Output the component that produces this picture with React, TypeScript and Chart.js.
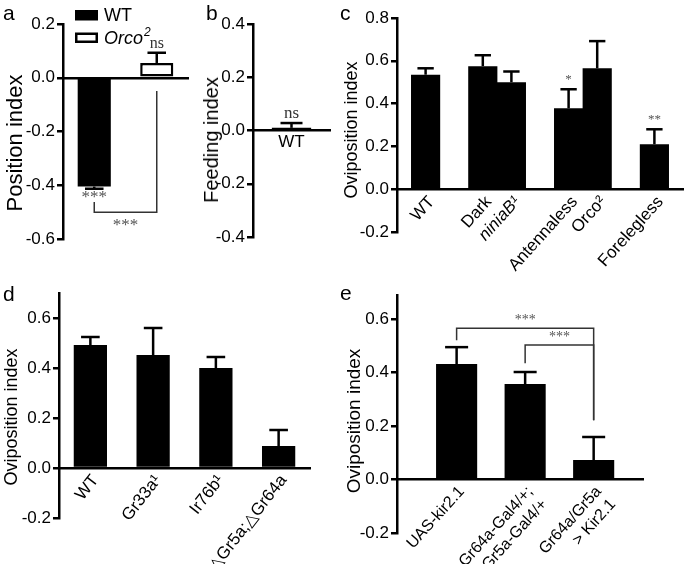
import React, { useEffect, useRef } from 'react';
import { Chart, registerables } from 'chart.js';

Chart.register(...registerables);

const SANS = '"Liberation Sans", "DejaVu Sans", Arial, sans-serif';
const SERIF = '"Liberation Serif", "DejaVu Serif", "Times New Roman", serif';

// ---- Panel a: position index ----
const categoriesA = ['WT', 'Orco2'];
const wtValuesA = [-0.405, null];
const orcoValuesA = [null, 0.055];
const errorsA = [0.008, 0.038];
const marksA = ['***', 'ns'];
const bracketsA = [{ from: 0, to: 1, legFrom: -0.462, level: -0.5, legTo: -0.049, text: '***' }];
const yTicksA = [-0.6, -0.4, -0.2, 0, 0.2];

// ---- Panel b: feeding index ----
const categoriesB = ['WT'];
const valuesB = [0.01];
const errorsB = [0.018];
const marksB = ['ns'];
const yTicksB = [-0.4, -0.2, 0, 0.2, 0.4];

// ---- Panel c: oviposition index ----
const categoriesC = ['', 'WT', '', 'Dark', 'niniaB¹', '', 'Antennaless', 'Orco²', '', 'Forelegless', ''];
const valuesC = [null, 0.535, null, 0.575, 0.5, null, 0.378, 0.565, null, 0.21, null];
const errorsC = [null, 0.03, null, 0.051, 0.05, null, 0.089, 0.127, null, 0.07, null];
const marksC = ['', '', '', '', '', '', '*', '', '', '**', ''];
const italicLabelsC = ['niniaB¹'];
const yTicksC = [-0.2, 0, 0.2, 0.4, 0.6, 0.8];

// ---- Panel d ----
const categoriesD = ['WT', 'Gr33a¹', 'Ir76b¹', '△Gr5a;△Gr64a'];
const valuesD = [0.492, 0.452, 0.4, 0.088];
const errorsD = [0.032, 0.108, 0.044, 0.064];
const yTicksD = [-0.2, 0, 0.2, 0.4, 0.6];

// ---- Panel e ----
const categoriesE = [['UAS-kir2.1'], ['Gr64a-Gal4/+;', 'Gr5a-Gal4/+'], ['Gr64a/Gr5a', '> Kir2.1']];
const valuesE = [0.432, 0.357, 0.073];
const errorsE = [0.063, 0.045, 0.086];
const bracketsE = [
  { from: 0, to: 2, legFrom: 0.521, level: 0.566, legTo: 0.222, text: '***' },
  { from: 1, to: 2, legFrom: 0.435, level: 0.503, legTo: 0.222, text: '***' },
];
const yTicksE = [-0.2, 0, 0.2, 0.4, 0.6];

type Rect = { x: number; y: number; w: number; h: number };
type Area = { l: number; t: number; r: number; b: number };

const RECT_A: Rect = { x: 0, y: 0, w: 205, h: 282 };
const AREA_A: Area = { l: 63, t: 24, r: 188, b: 239 };
const RECT_B: Rect = { x: 205, y: 0, w: 135, h: 282 };
const AREA_B: Area = { l: 253, t: 24, r: 330, b: 237 };
const RECT_C: Rect = { x: 340, y: 0, w: 345, h: 290 };
const AREA_C: Area = { l: 397, t: 18, r: 683, b: 232 };
const RECT_D: Rect = { x: 0, y: 282, w: 340, h: 282 };
const AREA_D: Area = { l: 59, t: 293, r: 310, b: 518 };
const RECT_E: Rect = { x: 340, y: 290, w: 345, h: 274 };
const AREA_E: Area = { l: 397, t: 295, r: 643, b: 533 };

const TICK_FONT = { family: SANS, size: 17 };

function padding(rect: Rect, area: Area) {
  return { left: 0, top: area.t - rect.y, right: rect.x + rect.w - area.r, bottom: rect.y + rect.h - area.b };
}

function yScale(rect: Rect, area: Area, min: number, max: number, ticks: number[]) {
  return {
    type: 'linear',
    min,
    max,
    afterBuildTicks: (s: any) => {
      s.ticks = ticks.map((v) => ({ value: v }));
    },
    afterFit: (s: any) => {
      s.width = area.l - rect.x;
      s.paddingTop = 0;
      s.paddingBottom = 0;
    },
    border: { display: true, width: 2.5, color: '#000', z: 1 },
    grid: {
      display: true,
      drawOnChartArea: false,
      drawTicks: true,
      tickLength: 6,
      tickWidth: 2.5,
      tickColor: '#000',
      lineWidth: 2.5,
      color: '#000',
    },
    ticks: {
      color: '#000',
      padding: 2,
      font: TICK_FONT,
      callback: (v: any) => Number(v).toFixed(1),
    },
  };
}

function xBase(extra: any) {
  return {
    position: { y: 0 },
    afterFit: (s: any) => {
      s.height = 0;
      s.paddingLeft = 0;
      s.paddingRight = 0;
    },
    border: { display: true, width: 2.5, color: '#000', z: 1 },
    grid: { display: false, drawTicks: false },
    ...extra,
  };
}

function findBar(chart: any, j: number) {
  const sets = chart.data.datasets;
  for (let di = 0; di < sets.length; di++) {
    const raw = sets[di].data[j];
    const v = raw == null ? null : typeof raw === 'object' ? raw.y : raw;
    if (v != null) return { v, el: chart.getDatasetMeta(di).data[j] };
  }
  return null;
}

type Spec = {
  errors: (number | null)[];
  marks?: string[];
  starSize?: number;
  nsSize?: number;
  brackets?: { from: number; to: number; legFrom: number; level: number; legTo: number; text: string }[];
  bracketStarSize?: number;
  legend?: boolean;
};

function overlay(spec: Spec) {
  return {
    id: 'overlay',
    afterDatasetsDraw(chart: any) {
      const ctx = chart.ctx as CanvasRenderingContext2D;
      const ys = chart.scales.y;
      const xs = chart.scales.x;
      ctx.save();
      const line = (x1: number, y1: number, x2: number, y2: number) => {
        ctx.beginPath();
        ctx.moveTo(x1, y1);
        ctx.lineTo(x2, y2);
        ctx.stroke();
      };
      spec.errors.forEach((e, j) => {
        const b = findBar(chart, j);
        if (!b || e == null) return;
        const dir = b.v < 0 ? -1 : 1;
        const x = b.el.x;
        const w = b.el.width;
        const y0 = ys.getPixelForValue(b.v);
        const y1 = ys.getPixelForValue(b.v + dir * e);
        ctx.strokeStyle = '#000';
        ctx.lineWidth = 2.5;
        line(x, y0, x, y1);
        line(x - w * 0.28, y1, x + w * 0.28, y1);
        const m = spec.marks ? spec.marks[j] : '';
        if (m) {
          const isNs = m === 'ns';
          const size = isNs ? spec.nsSize || 16 : spec.starSize || 14;
          ctx.font = `${size}px ${SERIF}`;
          ctx.fillStyle = isNs ? '#333' : '#555';
          ctx.textAlign = 'center';
          ctx.textBaseline = 'alphabetic';
          const ty = dir > 0 ? y1 - (isNs ? 5 : 6) : y1 + 2 + size * 0.68;
          ctx.fillText(m, x, ty);
        }
      });
      (spec.brackets || []).forEach((br) => {
        const x1 = xs.getPixelForValue(br.from);
        const x2 = xs.getPixelForValue(br.to);
        const yl = ys.getPixelForValue(br.legFrom);
        const yv = ys.getPixelForValue(br.level);
        const yr = ys.getPixelForValue(br.legTo);
        ctx.strokeStyle = '#333';
        ctx.lineWidth = 1.5;
        ctx.beginPath();
        ctx.moveTo(x1, yl);
        ctx.lineTo(x1, yv);
        ctx.lineTo(x2, yv);
        ctx.lineTo(x2, yr);
        ctx.stroke();
        const size = spec.bracketStarSize || 14;
        ctx.font = `${size}px ${SERIF}`;
        ctx.fillStyle = '#555';
        ctx.textAlign = 'center';
        ctx.textBaseline = 'alphabetic';
        const below = br.level < br.legFrom;
        const ty = below ? yv + 6 + size * 0.68 : yv - 4;
        ctx.fillText(br.text, (x1 + x2) / 2, ty);
      });
      if (spec.legend) {
        const ca = chart.chartArea;
        const lx = ca.left + 12;
        const sets = chart.data.datasets;
        sets.forEach((ds: any, i: number) => {
          const top = ca.top - 14 + i * 22.5;
          if (ds.borderWidth) {
            ctx.fillStyle = ds.backgroundColor;
            ctx.fillRect(lx + 1.25, top + 1.25, 20.5, 8);
            ctx.strokeStyle = ds.borderColor;
            ctx.lineWidth = 2.5;
            ctx.strokeRect(lx + 1.25, top + 1.25, 20.5, 8);
          } else {
            ctx.fillStyle = ds.backgroundColor;
            ctx.fillRect(lx, top, 23, 10.5);
          }
          ctx.fillStyle = '#000';
          ctx.textAlign = 'left';
          ctx.textBaseline = 'alphabetic';
          ctx.font = `${ds.legendItalic ? 'italic ' : ''}18px ${SANS}`;
          const tx = lx + 29;
          const ty = top + 11;
          ctx.fillText(ds.legendText, tx, ty);
          if (ds.legendSup) {
            const wMain = ctx.measureText(ds.legendText).width;
            ctx.font = `${ds.legendItalic ? 'italic ' : ''}12px ${SANS}`;
            ctx.fillText(ds.legendSup, tx + wMain + 1, ty - 8);
          }
        });
      }
      ctx.restore();
    },
  };
}

function baseOptions(rect: Rect, area: Area, scales: any) {
  return {
    responsive: false,
    animation: false,
    devicePixelRatio: 1,
    events: [],
    layout: { padding: padding(rect, area) },
    plugins: { legend: { display: false }, tooltip: { enabled: false }, title: { display: false } },
    scales,
  };
}

function configA() {
  return {
    type: 'bar',
    data: {
      labels: categoriesA,
      datasets: [
        { label: 'WT', legendText: 'WT', data: wtValuesA, backgroundColor: '#000', borderWidth: 0, grouped: false, categoryPercentage: 1, barPercentage: 0.53 },
        {
          label: 'Orco2', legendText: 'Orco', legendSup: '2', legendItalic: true, data: orcoValuesA,
          backgroundColor: '#fff', borderColor: '#000', borderWidth: 2.5, borderSkipped: false,
          grouped: false, categoryPercentage: 1, barPercentage: 0.53,
        },
      ],
    },
    options: baseOptions(RECT_A, AREA_A, {
      x: xBase({ type: 'category', offset: true, ticks: { display: false } }),
      y: yScale(RECT_A, AREA_A, -0.6, 0.2, yTicksA),
    }),
    plugins: [overlay({ errors: errorsA, marks: marksA, nsSize: 16, starSize: 17, brackets: bracketsA, bracketStarSize: 17, legend: true })],
  };
}

function configB() {
  return {
    type: 'bar',
    data: {
      labels: categoriesB,
      datasets: [{ label: 'Feeding index', data: valuesB, backgroundColor: '#000', borderWidth: 0, categoryPercentage: 1, barPercentage: 0.51 }],
    },
    options: baseOptions(RECT_B, AREA_B, {
      x: xBase({
        type: 'category', offset: true,
        ticks: { color: '#000', font: TICK_FONT, padding: 2, maxRotation: 0, minRotation: 0 },
      }),
      y: yScale(RECT_B, AREA_B, -0.4, 0.4, yTicksB),
    }),
    plugins: [overlay({ errors: errorsB, marks: marksB, nsSize: 17 })],
  };
}

function configC() {
  return {
    type: 'bar',
    data: {
      labels: categoriesC,
      datasets: [{ label: 'Oviposition index', data: valuesC, backgroundColor: '#000', borderWidth: 0, categoryPercentage: 1, barPercentage: 1.02 }],
    },
    options: baseOptions(RECT_C, AREA_C, {
      x: xBase({
        type: 'category', offset: false,
        ticks: {
          color: '#000', padding: 3, autoSkip: false, minRotation: 48, maxRotation: 48, labelOffset: 6,
          font: (c: any) => ({ family: SANS, size: 17, style: italicLabelsC.includes(categoriesC[c.index]) ? 'italic' : 'normal' }),
        },
      }),
      y: yScale(RECT_C, AREA_C, -0.2, 0.8, yTicksC),
    }),
    plugins: [overlay({ errors: errorsC, marks: marksC, starSize: 13 })],
  };
}

function configD() {
  return {
    type: 'bar',
    data: {
      labels: categoriesD,
      datasets: [{ label: 'Oviposition index', data: valuesD, backgroundColor: '#000', borderWidth: 0, categoryPercentage: 1, barPercentage: 0.53 }],
    },
    options: baseOptions(RECT_D, AREA_D, {
      x: xBase({
        type: 'category', offset: true,
        ticks: { color: '#000', padding: 3, autoSkip: false, minRotation: 52, maxRotation: 52, labelOffset: 5, font: TICK_FONT },
      }),
      y: yScale(RECT_D, AREA_D, -0.2, 0.7, yTicksD),
    }),
    plugins: [overlay({ errors: errorsD })],
  };
}

function configE() {
  return {
    type: 'bar',
    data: {
      datasets: [{
        label: 'Oviposition index',
        data: valuesE.map((v, i) => ({ x: i, y: v })),
        backgroundColor: '#000', borderWidth: 0, categoryPercentage: 1, barPercentage: 0.6,
      }],
    },
    options: baseOptions(RECT_E, AREA_E, {
      x: xBase({
        type: 'linear', min: -0.87, max: 2.72, offset: false,
        afterBuildTicks: (s: any) => {
          s.ticks = categoriesE.map((_, i) => ({ value: i }));
        },
        ticks: {
          color: '#000', padding: 3, autoSkip: false, minRotation: 48, maxRotation: 48, labelOffset: 5,
          font: { family: SANS, size: 16 },
          callback: (v: any) => categoriesE[Math.round(Number(v))],
        },
      }),
      y: yScale(RECT_E, AREA_E, -0.2, 0.69, yTicksE),
    }),
    plugins: [overlay({ errors: errorsE, brackets: bracketsE, bracketStarSize: 14 })],
  };
}

function Panel({ rect, make }: { rect: Rect; make: () => any }) {
  const ref = useRef<HTMLCanvasElement>(null);
  useEffect(() => {
    const chart = new Chart(ref.current as HTMLCanvasElement, make());
    return () => chart.destroy();
  }, []);
  return (
    <canvas
      ref={ref}
      width={rect.w}
      height={rect.h}
      style={{ position: 'absolute', left: rect.x, top: rect.y, width: rect.w, height: rect.h }}
    />
  );
}

function Letter({ x, baseline, text }: { x: number; baseline: number; text: string }) {
  const size = 21;
  return (
    <div style={{ position: 'absolute', left: x, top: baseline - size * 0.845, fontSize: size, lineHeight: 1, fontFamily: SANS, color: '#000' }}>
      {text}
    </div>
  );
}

function YTitle({ cx, cy, size, text }: { cx: number; cy: number; size: number; text: string }) {
  return (
    <div
      style={{
        position: 'absolute', left: cx, top: cy, transform: 'translate(-50%, -50%) rotate(-90deg)',
        fontSize: size, lineHeight: 1, whiteSpace: 'nowrap', fontFamily: SANS, color: '#000',
      }}
    >
      {text}
    </div>
  );
}

export default function App() {
  return (
    <div style={{ position: 'fixed', left: 0, top: 0, width: 685, height: 564, background: '#fff', overflow: 'hidden' }}>
      <Panel rect={RECT_A} make={configA} />
      <Panel rect={RECT_B} make={configB} />
      <Panel rect={RECT_C} make={configC} />
      <Panel rect={RECT_D} make={configD} />
      <Panel rect={RECT_E} make={configE} />
      <Letter x={3} baseline={20} text="a" />
      <Letter x={206} baseline={20} text="b" />
      <Letter x={340} baseline={20} text="c" />
      <Letter x={3} baseline={301} text="d" />
      <Letter x={340} baseline={300} text="e" />
      <YTitle cx={15} cy={143} size={22} text="Position index" />
      <YTitle cx={211} cy={140} size={20} text="Feeding index" />
      <YTitle cx={351} cy={130} size={18} text="Oviposition index" />
      <YTitle cx={11} cy={417} size={18} text="Oviposition index" />
      <YTitle cx={353} cy={421} size={19} text="Oviposition index" />
    </div>
  );
}
